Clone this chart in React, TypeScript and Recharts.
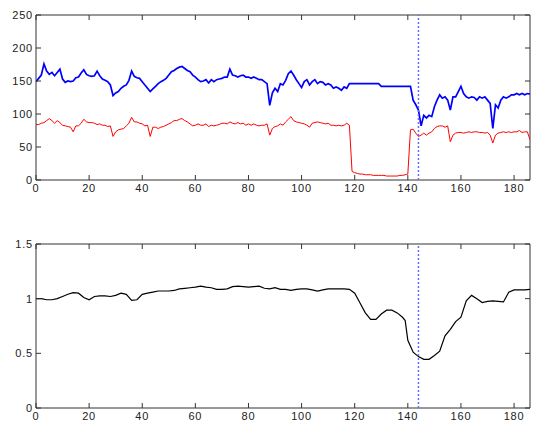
import React from 'react';
import {
  LineChart,
  Line,
  XAxis,
  YAxis,
  ReferenceLine,
  ReferenceArea,
} from 'recharts';

// top panel: two noisy traces, one sample per time unit (t = index)
const BLUE = [
  149, 154, 159, 176, 165, 160, 163, 158, 163, 168, 153, 148, 150, 149, 150, 155, 156, 162, 167, 160,
  158, 157, 158, 165, 158, 153, 151, 149, 144, 128, 132, 134, 139, 142, 144, 151, 165, 157, 155, 154,
  149, 144, 139, 134, 138, 142, 146, 149, 151, 154, 159, 164, 166, 169, 171, 172, 169, 166, 164, 159,
  156, 152, 149, 150, 152, 147, 152, 149, 152, 153, 154, 156, 156, 168, 159, 158, 156, 158, 159, 156,
  156, 154, 156, 154, 152, 152, 149, 146, 113, 132, 139, 134, 146, 144, 151, 161, 165, 159, 152, 146,
  140, 149, 152, 144, 149, 152, 146, 149, 148, 144, 146, 144, 139, 141, 139, 136, 141, 139, 146, 146,
  146, 146, 146, 146, 146, 146, 146, 146, 146, 146, 142, 142, 142, 142, 142, 142, 142, 142, 142, 142,
  142, 142, 121, 114, 106, 82, 98, 94, 98, 96, 111, 121, 129, 124, 126, 121, 106, 126, 126, 134,
  142, 131, 126, 124, 126, 125, 121, 126, 124, 126, 121, 116, 78, 114, 109, 121, 126, 124, 126, 129,
  129, 131, 129, 131, 129, 131, 130,
];

const RED = [
  84, 84, 86, 87, 90, 93, 90, 86, 90, 87, 83, 82, 81, 80, 73, 82, 82, 86, 92, 88,
  87, 87, 86, 84, 85, 83, 83, 81, 82, 66, 73, 76, 77, 78, 82, 86, 95, 88, 88, 86,
  85, 82, 83, 66, 80, 80, 78, 80, 81, 83, 85, 87, 90, 90, 92, 93, 90, 88, 85, 82,
  83, 85, 83, 83, 85, 81, 83, 82, 83, 84, 86, 86, 85, 88, 86, 85, 87, 85, 86, 83,
  85, 83, 85, 83, 82, 83, 83, 85, 68, 78, 81, 82, 85, 83, 88, 92, 96, 90, 88, 87,
  86, 85, 83, 80, 86, 87, 88, 87, 86, 85, 86, 83, 83, 82, 83, 82, 83, 86, 83, 13,
  11, 10, 9, 9, 8, 8, 8, 7, 7, 7, 7, 7, 6, 6, 6, 6, 6, 7, 7, 8,
  9, 76, 77, 71, 66, 68, 71, 68, 71, 73, 78, 81, 82, 82, 80, 82, 58, 68, 71, 72,
  72, 71, 72, 73, 72, 73, 73, 72, 72, 71, 72, 68, 56, 68, 71, 72, 73, 72, 73, 72,
  73, 73, 75, 72, 73, 73, 61,
];

// bottom panel: smoothed ratio
const RATIO_T = [
  0, 2, 4, 6, 8, 10, 12, 14, 16, 18, 20, 22, 24, 26, 28, 30, 32, 34, 36, 38,
  40, 42, 44, 46, 48, 50, 52, 54, 56, 58, 60, 62, 64, 66, 68, 70, 72, 74, 76, 78,
  80, 82, 84, 86, 88, 90, 92, 94, 96, 98, 100, 102, 104, 106, 108, 110, 112, 114, 116, 118,
  120, 122, 124, 126, 128, 130, 132, 134, 136, 138, 139, 140, 142, 144, 146, 148, 150, 152, 154, 156,
  158, 160, 162, 164, 166, 168, 170, 172, 174, 176, 178, 180, 182, 184, 186,
];
const RATIO = [
  1.0, 1.0, 0.99, 0.99, 1.0, 1.02, 1.04, 1.055, 1.05, 1.01, 0.99, 1.02, 1.025, 1.025, 1.02, 1.03, 1.05, 1.04, 0.985, 0.99,
  1.04, 1.05, 1.06, 1.07, 1.07, 1.07, 1.075, 1.09, 1.095, 1.1, 1.105, 1.115, 1.105, 1.1, 1.085, 1.085, 1.09, 1.11, 1.115, 1.11,
  1.105, 1.11, 1.115, 1.095, 1.09, 1.1, 1.085, 1.085, 1.076, 1.085, 1.09, 1.09, 1.08, 1.07, 1.08, 1.09, 1.09, 1.09, 1.09, 1.085,
  1.05, 0.96, 0.87, 0.81, 0.81, 0.86, 0.895, 0.895, 0.87, 0.83, 0.8, 0.62, 0.51, 0.47, 0.445, 0.445, 0.48, 0.52, 0.66, 0.72,
  0.79, 0.83, 0.98, 1.03, 1.0, 0.965, 0.975, 0.98, 0.975, 0.97, 1.06, 1.08, 1.08, 1.08, 1.085,
];

const X_TICKS = [0, 20, 40, 60, 80, 100, 120, 140, 160, 180];
const TOP_Y_TICKS = [0, 50, 100, 150, 200, 250];
const BOT_Y_TICKS = [0, 0.5, 1, 1.5];
const X_MAX = 186;
const MARK_T = 144;

const topRows = BLUE.map((b, i) => ({ t: i, blue: b, red: RED[i] }));
const ratioRows = RATIO_T.map((t, i) => ({ t, ratio: RATIO[i] }));

const W = 533;
const LEFT = 36;
const RIGHT = 530;
const FRAME = '#333';
const textStyle = { fontFamily: '"Liberation Sans", Arial, sans-serif', fontSize: 11, letterSpacing: 0.8, fill: '#222' };

// MATLAB-style ticks: pointing inwards on all four sides
const makeXTick = (top: number, bottom: number) => (props: any) => {
  const { x, payload } = props;
  return (
    <g>
      <line x1={x} y1={bottom} x2={x} y2={bottom - 5} stroke={FRAME} />
      <line x1={x} y1={top} x2={x} y2={top + 5} stroke={FRAME} />
      <text x={x} y={bottom + 12} textAnchor="middle" style={textStyle}>{payload.value}</text>
    </g>
  );
};

const makeYTick = () => (props: any) => {
  const { y, payload } = props;
  return (
    <g>
      <line x1={LEFT} y1={y} x2={LEFT + 5} y2={y} stroke={FRAME} />
      <line x1={RIGHT} y1={y} x2={RIGHT - 5} y2={y} stroke={FRAME} />
      <text x={LEFT - 3} y={y + 4} textAnchor="end" style={textStyle}>{payload.value}</text>
    </g>
  );
};

const App = () => {
  return (
    <div style={{ position: 'absolute', left: 0, top: 0, width: W, height: 423, background: '#fff' }}>
      <LineChart width={W} height={200} data={topRows} margin={{ top: 15, right: W - RIGHT, bottom: 0, left: 0 }}>
        <XAxis dataKey="t" type="number" domain={[0, X_MAX]} ticks={X_TICKS} interval={0}
          allowDataOverflow axisLine={false} tickLine={false} height={20} tick={makeXTick(15, 180)} />
        <YAxis type="number" domain={[0, 250]} ticks={TOP_Y_TICKS} interval={0}
          allowDataOverflow axisLine={false} tickLine={false} width={LEFT} tick={makeYTick()} />
        <ReferenceArea x1={0} x2={X_MAX} y1={0} y2={250} fill="#fff" fillOpacity={0} stroke={FRAME} strokeWidth={1} />
        <Line dataKey="blue" stroke="#0000ff" strokeWidth={1.7} dot={false} isAnimationActive={false} />
        <Line dataKey="red" stroke="#ff0000" strokeWidth={1} dot={false} isAnimationActive={false} />
        <ReferenceLine x={MARK_T} stroke="#6a6aff" strokeWidth={1.5} strokeDasharray="2 2" />
      </LineChart>
      <LineChart width={W} height={223} data={ratioRows} margin={{ top: 44, right: W - RIGHT, bottom: 0, left: 0 }}>
        <XAxis dataKey="t" type="number" domain={[0, X_MAX]} ticks={X_TICKS} interval={0}
          allowDataOverflow axisLine={false} tickLine={false} height={15} tick={makeXTick(44, 208)} />
        <YAxis type="number" domain={[0, 1.5]} ticks={BOT_Y_TICKS} interval={0}
          allowDataOverflow axisLine={false} tickLine={false} width={LEFT} tick={makeYTick()} />
        <ReferenceArea x1={0} x2={X_MAX} y1={0} y2={1.5} fill="#fff" fillOpacity={0} stroke={FRAME} strokeWidth={1} />
        <Line dataKey="ratio" stroke="#000" strokeWidth={1.2} dot={false} isAnimationActive={false} />
        <ReferenceLine x={MARK_T} stroke="#6a6aff" strokeWidth={1.5} strokeDasharray="2 2" />
      </LineChart>
    </div>
  );
};

export default App;
